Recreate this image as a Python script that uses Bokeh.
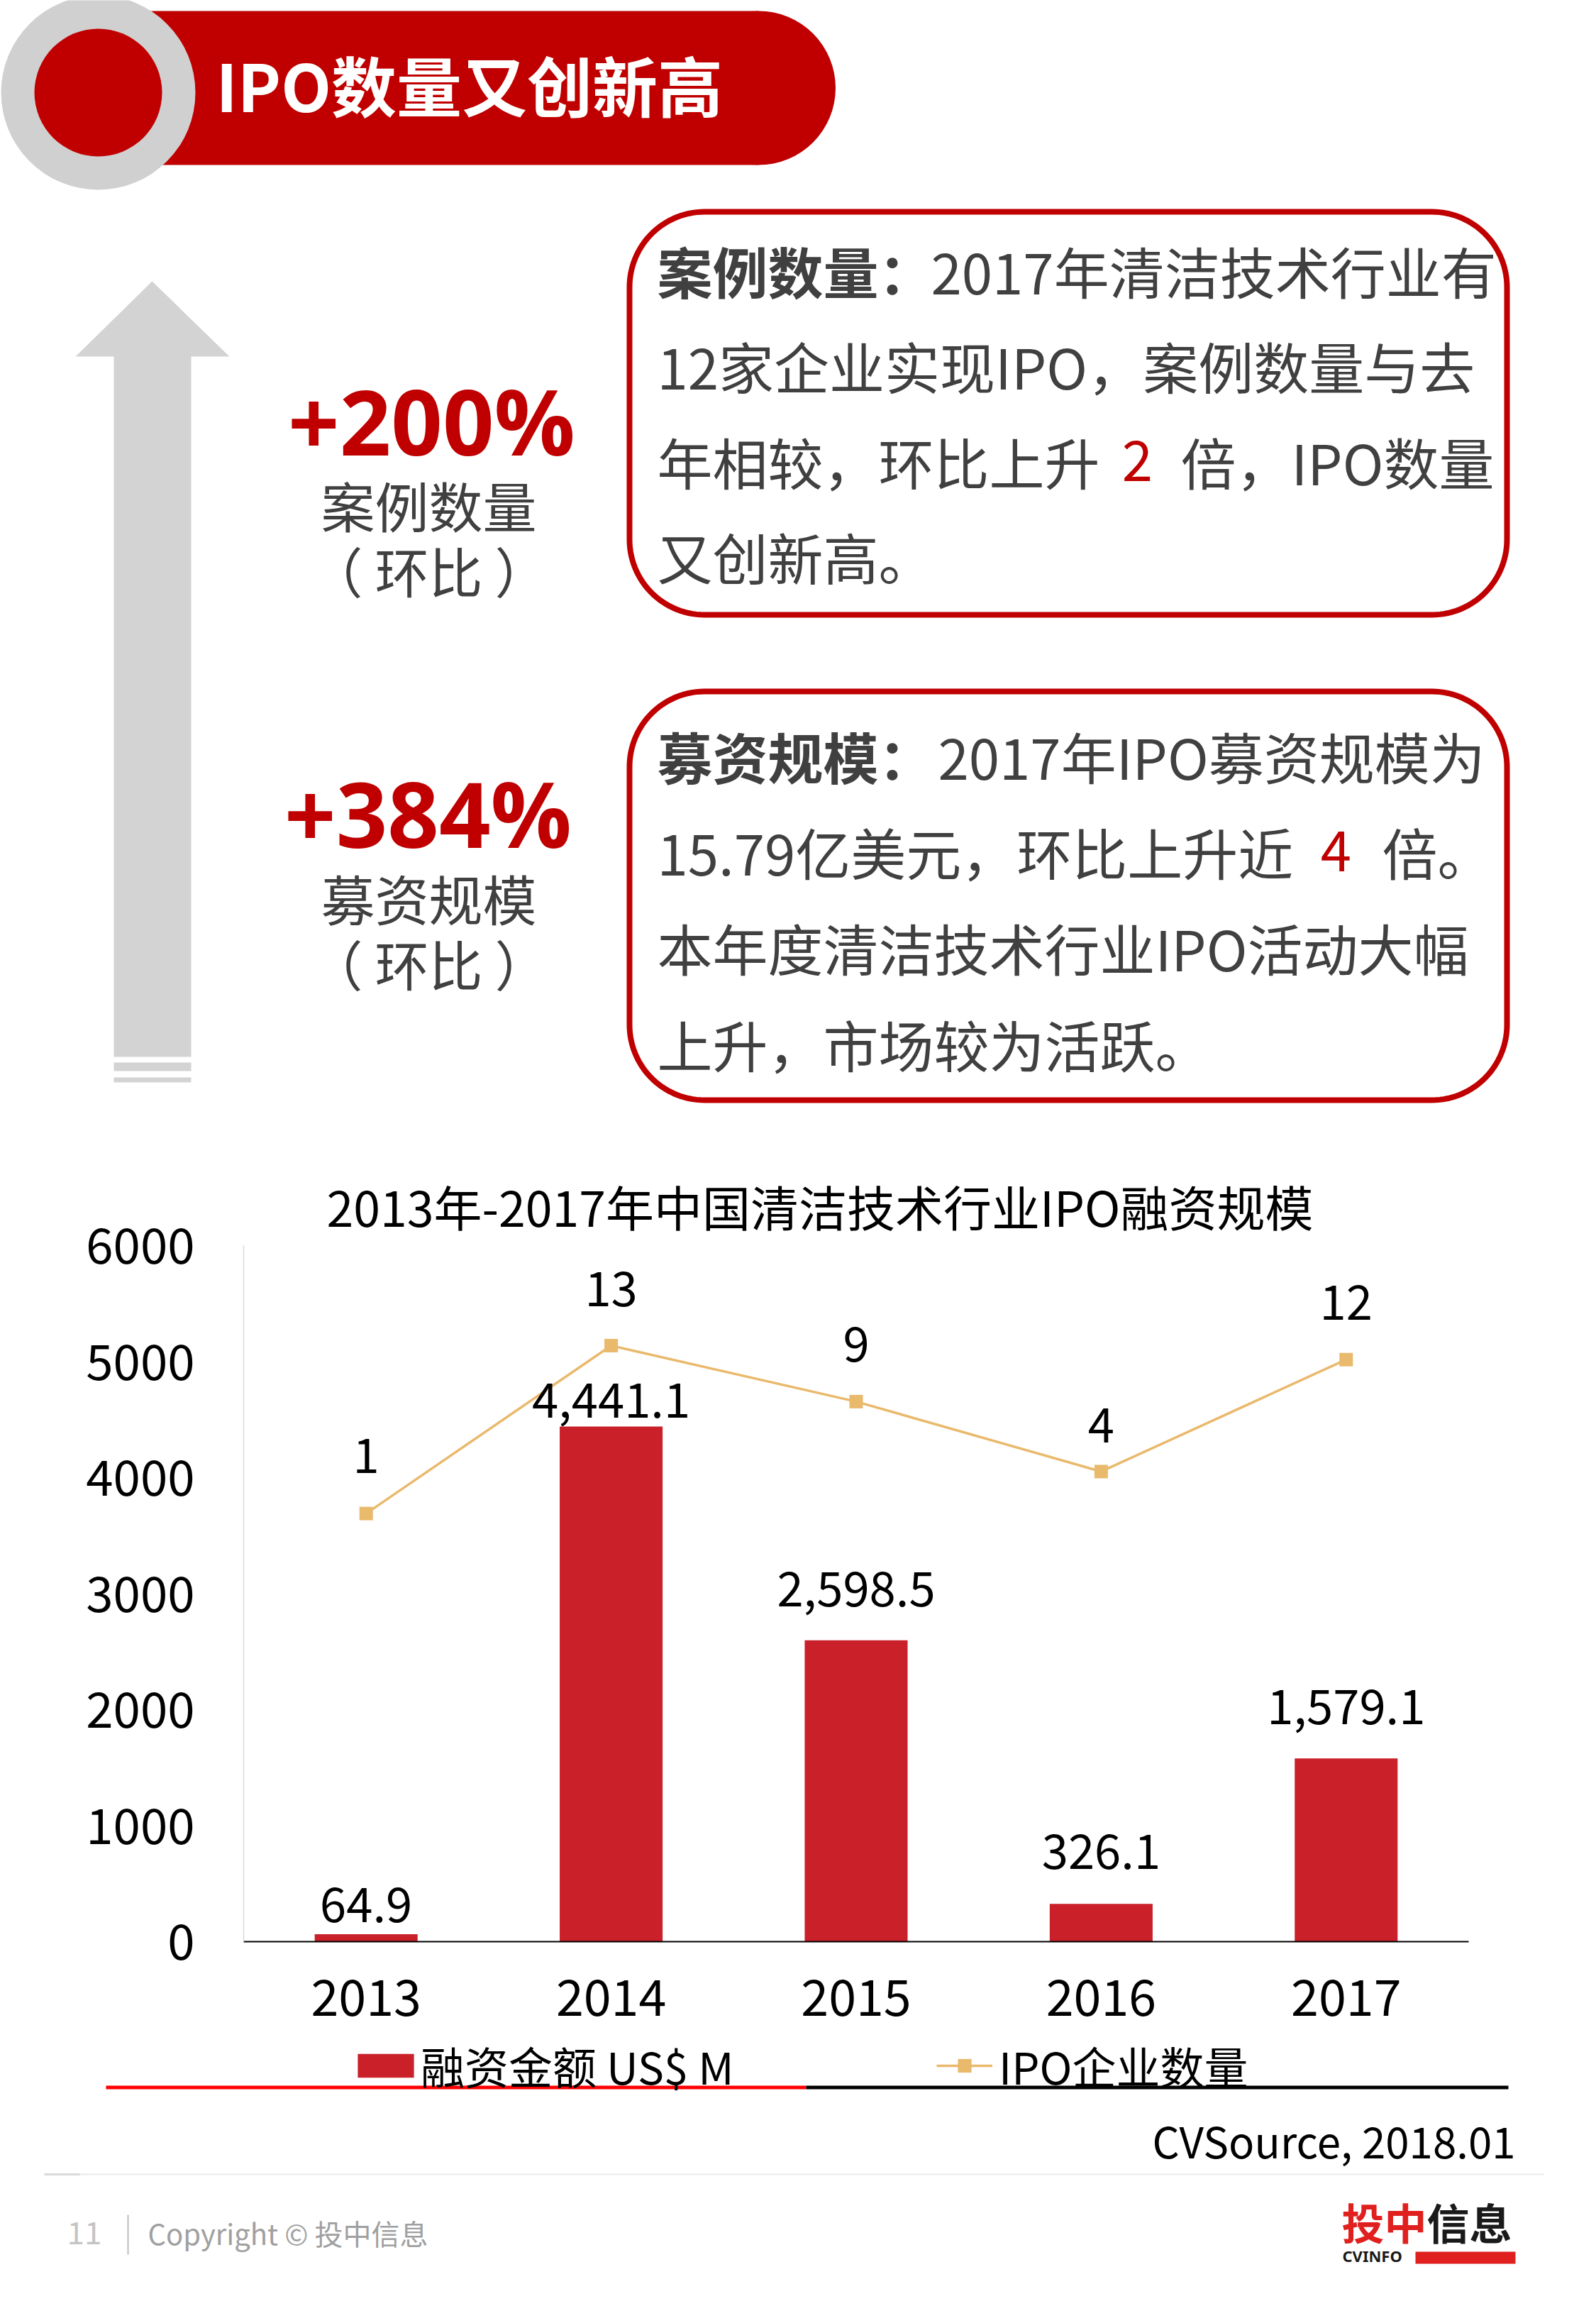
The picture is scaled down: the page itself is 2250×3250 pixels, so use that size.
import numpy as np
from bokeh.plotting import figure
from bokeh.models import (Range1d, FactorRange, ColumnDataSource, LabelSet, Legend,
                          LegendItem, FixedTicker)
from bokeh.layouts import column
from bokeh.embed import file_html
from bokeh.resources import INLINE
from bokeh.core.properties import value

# ---------------- data ----------------
years = ["2013", "2014", "2015", "2016", "2017"]
amount_usd_m = [64.9, 4441.1, 2598.5, 326.1, 1579.1]
amount_labels = ["64.9", "4,441.1", "2,598.5", "326.1", "1,579.1"]
ipo_count = [1, 13, 9, 4, 12]
count_labels = ["1", "13", "9", "4", "12"]
y_ticks = [0, 1000, 2000, 3000, 4000, 5000, 6000]

chart_title = "2013年-2017年中国清洁技术行业IPO融资规模"
series_names = ["融资金额 US$ M", "IPO企业数量"]

# label placement (pixels above the mark)
bar_label_dy = [17, 12, 48, 49, 48]
count_label_dy = [57, 55, 56, 41, 56]

# ---------------- style ----------------
CJK = "Noto Sans CJK SC"
RED = "#C00000"
BAR = "#C9202A"
LINE = "#E9B96C"
GRAY_TXT = "#404040"
W = 2234
H = 3234
DY = -6  # vertical correction for middle-aligned text


def no_align(f):
    if "frame_align" in f.properties():
        f.frame_align = False


def deco_fig(top, bottom):
    f = figure(width=W, height=bottom - top, x_range=Range1d(0, W),
               y_range=Range1d(bottom, top), output_backend="svg",
               toolbar_location=None, x_axis_location=None, y_axis_location=None,
               min_border=0, frame_width=W, frame_height=bottom - top)
    f.min_border_left = f.min_border_right = f.min_border_top = f.min_border_bottom = 0
    f.grid.visible = False
    f.outline_line_color = None
    f.background_fill_color = "white"
    f.border_fill_color = "white"
    no_align(f)
    return f


def txt(f, x, y, s, size, color, align="left", baseline="middle", bold=False, font=CJK):
    f.text(x=[x], y=[y + DY], text=[s], text_font=value(font), text_font_size=f"{size}px",
           text_color=color, text_align=align, text_baseline=baseline,
           text_font_style="bold" if bold else "normal")


def rrect(x0, y0, x1, y1, r, n=30):
    xs, ys = [], []
    for cx, cy, a0 in [(x1 - r, y0 + r, -90), (x1 - r, y1 - r, 0),
                       (x0 + r, y1 - r, 90), (x0 + r, y0 + r, 180)]:
        ang = np.radians(np.linspace(a0, a0 + 90, n))
        xs += list(cx + r * np.cos(ang))
        ys += list(cy + r * np.sin(ang))
    return xs, ys


# ================= top figure (page y 0 .. 1640) =================
A_TOP, A_BOT = 0, 1640
pa = deco_fig(A_TOP, A_BOT)

# header banner
pa.quad(left=138, right=1069, top=15, bottom=232, fill_color=RED, line_color=None)
pa.circle(x=[1069], y=[123.5], radius=108.5, fill_color=RED, line_color=None)
pa.circle(x=[138], y=[130], radius=137, fill_color="#D0D0D0", line_color=None)
pa.circle(x=[138], y=[130], radius=90, fill_color=RED, line_color=None)
txt(pa, 304, 123, "IPO数量又创新高", 92, "white", bold=True)

# big gray arrow
pa.patch(x=[214, 323, 269, 269, 160, 160, 106], y=[396, 502, 502, 1489, 1489, 502, 502],
         fill_color="#D3D3D3", line_color=None)
pa.quad(left=160, right=269, top=1497, bottom=1509, fill_color="#D3D3D3", line_color=None)
pa.quad(left=160, right=269, top=1518, bottom=1525, fill_color="#D3D3D3", line_color=None)

# key figures
txt(pa, 608, 598, "+200%", 127, RED, align="center", bold=True, font="Open Sans")
txt(pa, 604, 716, "案例数量", 76, GRAY_TXT, align="center")
txt(pa, 604, 808, "（ 环比 ）", 76, GRAY_TXT, align="center")
txt(pa, 603, 1151, "+384%", 127, RED, align="center", bold=True, font="Open Sans")
txt(pa, 604, 1270, "募资规模", 76, GRAY_TXT, align="center")
txt(pa, 604, 1362, "（ 环比 ）", 76, GRAY_TXT, align="center")

# rounded text boxes
for (y0, y1) in [(298, 866), (974, 1550)]:
    bx, by = rrect(887, y0, 2124, y1, 106)
    pa.patch(x=bx, y=by, fill_color="white", line_color=RED, line_width=8)

FS = 78
txt(pa, 926, 386, "案例数量：", FS, GRAY_TXT, bold=True)
txt(pa, 1312, 386, "2017年清洁技术行业有", FS, GRAY_TXT)
txt(pa, 926, 520, "12家企业实现IPO，案例数量与去", FS, GRAY_TXT)
txt(pa, 926, 655, "年相较，环比上升", FS, GRAY_TXT)
txt(pa, 1603, 655, "2", FS, RED, align="center")
txt(pa, 1664, 655, "倍，IPO数量", FS, GRAY_TXT)
txt(pa, 926, 789, "又创新高。", FS, GRAY_TXT)

txt(pa, 926, 1070, "募资规模：", FS, GRAY_TXT, bold=True)
txt(pa, 1322, 1070, "2017年IPO募资规模为", FS, GRAY_TXT)
txt(pa, 926, 1205, "15.79亿美元，环比上升近", FS, GRAY_TXT)
txt(pa, 1883, 1205, "4", FS, RED, align="center")
txt(pa, 1948, 1205, "倍。", FS, GRAY_TXT)
txt(pa, 926, 1340, "本年度清洁技术行业IPO活动大幅", FS, GRAY_TXT)
txt(pa, 926, 1476, "上升，市场较为活跃。", FS, GRAY_TXT)

# ================= chart figure (page y 1640 .. 2860) =================
B_TOP, B_BOT = 1640, 2860
FRAME_TOP, FRAME_BOT, FRAME_L, FRAME_R = 1755, 2736, 343, 2070
pb = figure(width=W, height=B_BOT - B_TOP, x_range=FactorRange(*years),
            y_range=Range1d(0, 6000), output_backend="svg", toolbar_location=None,
            title=chart_title,
            frame_width=FRAME_R - FRAME_L, frame_height=FRAME_BOT - FRAME_TOP,
            min_border_left=FRAME_L, min_border_right=W - FRAME_R,
            min_border_top=FRAME_TOP - B_TOP, min_border_bottom=B_BOT - FRAME_BOT)
no_align(pb)
pb.title.text_font = CJK
pb.title.text_font_size = "68px"
pb.title.text_font_style = "normal"
pb.title.text_color = "black"
pb.title.align = "left"
pb.title.offset = 460 - FRAME_L
pb.title.standoff = 14
pb.x_range.range_padding = 0
pb.extra_y_ranges = {"count": Range1d(-29.6, 20.15)}
pb.grid.visible = False
pb.outline_line_color = None
pb.background_fill_color = "white"
pb.border_fill_color = "white"

src = ColumnDataSource(dict(year=years, amount=amount_usd_m, amount_label=amount_labels,
                            count=ipo_count, count_label=count_labels,
                            bar_dy=bar_label_dy, count_dy=count_label_dy))

bars = pb.vbar(x="year", top="amount", width=0.42, source=src, fill_color=BAR, line_color=None)
ln = pb.line(x="year", y="count", source=src, y_range_name="count", line_color=LINE, line_width=3.5)
mk = pb.scatter(x="year", y="count", source=src, y_range_name="count", marker="square",
                size=19, fill_color=LINE, line_color=None)

pb.add_layout(LabelSet(x="year", y="amount", text="amount_label", source=src, y_offset="bar_dy",
                       text_align="center", text_baseline="alphabetic", text_font=value(CJK),
                       text_font_size="67px", text_color="black"))
pb.add_layout(LabelSet(x="year", y="count", text="count_label", source=src, y_range_name="count",
                       y_offset="count_dy", text_align="center", text_baseline="alphabetic",
                       text_font=value(CJK), text_font_size="67px", text_color="black"))

yax = pb.yaxis[0]
yax.ticker = FixedTicker(ticks=y_ticks)
yax.major_label_text_font = CJK
yax.major_label_text_font_size = "69px"
yax.major_label_text_color = "black"
yax.major_tick_line_color = None
yax.major_tick_out = 0
yax.minor_tick_line_color = None
yax.axis_line_color = "#D9D9D9"
yax.axis_line_width = 1.5
yax.major_label_standoff = 69

xax = pb.xaxis[0]
xax.major_label_text_font = CJK
xax.major_label_text_font_size = "70px"
xax.major_label_text_color = "black"
xax.major_tick_line_color = None
xax.major_tick_out = 0
xax.minor_tick_line_color = None
xax.axis_line_color = "black"
xax.axis_line_width = 2
xax.major_label_standoff = 53

# ================= bottom figure (page y 2860 .. 3234) =================
C_TOP, C_BOT = 2860, H
pc = deco_fig(C_TOP, C_BOT)

# legend-only proxies carrying the series styles (NaN: nothing is drawn in the plot)
nan = [float("nan")]
lg_bar = pc.vbar(x=nan, top=nan, width=1, fill_color=BAR, line_color=None)
lg_line = pc.line(x=nan, y=nan, line_color=LINE, line_width=3.5)
lg_mk = pc.scatter(x=nan, y=nan, marker="square", size=19, fill_color=LINE, line_color=None)


def make_legend(item, x_page, y_center, gw, gh, standoff):
    h = 90
    lg = Legend(items=[item], location=(x_page, C_BOT - (y_center + h / 2)),
                orientation="horizontal", glyph_width=gw, glyph_height=gh,
                label_standoff=standoff, label_text_font=CJK, label_text_font_size="62px",
                label_text_color="black", padding=0, margin=0, spacing=0,
                label_height=h, border_line_color=None, background_fill_alpha=0)
    pc.add_layout(lg, "center")


# the area swatch is drawn with a 10% inset, so its box is enlarged accordingly
make_legend(LegendItem(label=series_names[0], renderers=[lg_bar]), 494, 2911, 99, 42, 0)
make_legend(LegendItem(label=series_names[1], renderers=[lg_line, lg_mk]), 1320, 2911, 79, 48, 9)

pc.quad(left=149, right=1136, top=2939, bottom=2944, fill_color="#FF0000", line_color=None)
pc.quad(left=1136, right=2126, top=2939, bottom=2944, fill_color="black", line_color=None)
txt(pc, 2136, 3021, "CVSource, 2018.01", 60, "black", align="right")
pc.segment(x0=[62], y0=[3064], x1=[2176], y1=[3064], line_color="#EBEBEB", line_width=2)
pc.segment(x0=[62], y0=[3064], x1=[112], y1=[3064], line_color="#DADADA", line_width=3)

txt(pc, 94, 3152, "11", 44, "#C4C4C4")
pc.segment(x0=[180], y0=[3121], x1=[180], y1=[3177], line_color="#BDBDBD", line_width=2)
txt(pc, 208, 3152, "Copyright © 投中信息", 40, "#A0A0A0")

txt(pc, 1891, 3136, "投中", 60, "#E0201E", bold=True)
txt(pc, 2011, 3136, "信息", 60, "#1A1A1A", bold=True)
txt(pc, 1892, 3184, "CVINFO", 22, "#1A1A1A", bold=True, font="Noto Sans")
pc.quad(left=1995, right=2136, top=3173, bottom=3190, fill_color="#E0201E", line_color=None)

layout = column(pa, pb, pc, spacing=0)
open("out.html", "w").write(file_html(layout, INLINE))
